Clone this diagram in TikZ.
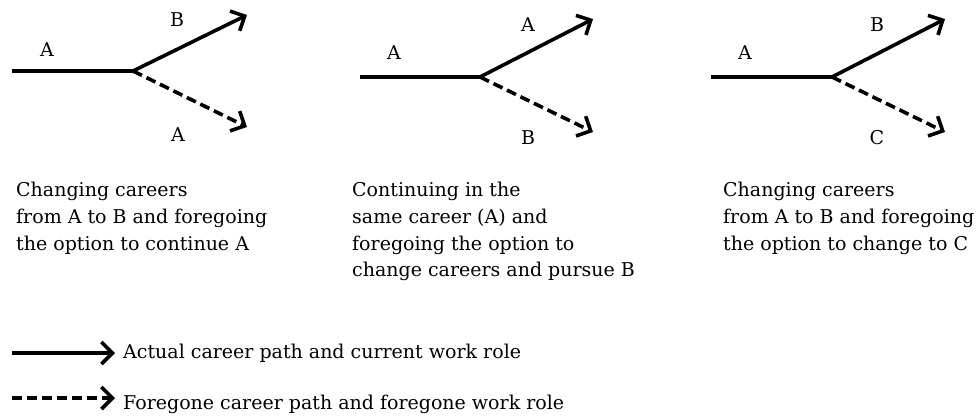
\documentclass[tikz,border=0pt]{standalone}
\usepackage{fontspec}
\setmainfont{DejaVu Serif}
\usepackage{tikz}
\usetikzlibrary{positioning,arrows.meta}

\begin{document}
\begin{tikzpicture}[x=1pt,y=-1pt,
  every node/.style={font=\fontsize{19}{26.7}\selectfont,inner sep=0pt},
  actual/.style={line width=3.6pt,-{Straight Barb[length=11pt,width=22pt]}},
  foregone/.style={actual,dash pattern=on 10pt off 5pt},
  txt/.style={align=left,anchor=north west}
]
\useasboundingbox (0,0) rectangle (979,416);
% panel 1
\coordinate (s1) at (12,71);
\coordinate (j1) at (133,71);
\coordinate (u1) at (247,15);
\coordinate (d1) at (247,127);
\draw[line width=3.6pt] (s1) -- (j1);
\draw[actual] (j1) -- (u1);
\draw[foregone] (j1) -- (d1);
\node (la1) at (47,50) {A};
\node (lu1) at (177,20) {B};
\node (ld1) at (178,135) {A};
\node[txt] (t1) at (16,182) {Changing careers\\from A to B and foregoing\\the option to continue A};
% panel 2
\coordinate (s2) at (360,77);
\coordinate (j2) at (480,77);
\coordinate (u2) at (593,19);
\coordinate (d2) at (593,132);
\draw[line width=3.6pt] (s2) -- (j2);
\draw[actual] (j2) -- (u2);
\draw[foregone] (j2) -- (d2);
\node (la2) at (394,53) {A};
\node (lu2) at (528,25) {A};
\node (ld2) at (528,138) {B};
\node[txt] (t2) at (352,182) {Continuing in the\\same career (A) and\\foregoing the option to\\change careers and pursue B};
% panel 3
\coordinate (s3) at (711,77);
\coordinate (j3) at (832,77);
\coordinate (u3) at (945,19);
\coordinate (d3) at (945,132);
\draw[line width=3.6pt] (s3) -- (j3);
\draw[actual] (j3) -- (u3);
\draw[foregone] (j3) -- (d3);
\node (la3) at (745,53) {A};
\node (lu3) at (877,25) {B};
\node (ld3) at (877,138) {C};
\node[txt] (t3) at (723,182) {Changing careers\\from A to B and foregoing\\the option to change to C};
% legend
\coordinate (k1s) at (12,353);
\coordinate (k1e) at (115,353);
\coordinate (k2s) at (12,398);
\coordinate (k2e) at (115,398);
\draw[actual] (k1s) -- (k1e);
\draw[foregone] (k2s) -- (k2e);
\node[right=8pt of k1e] (k1) {Actual career path and current work role};
\node[right=8pt of k2e,yshift=-6pt] (k2) {Foregone career path and foregone work role};
\end{tikzpicture}
\end{document}
